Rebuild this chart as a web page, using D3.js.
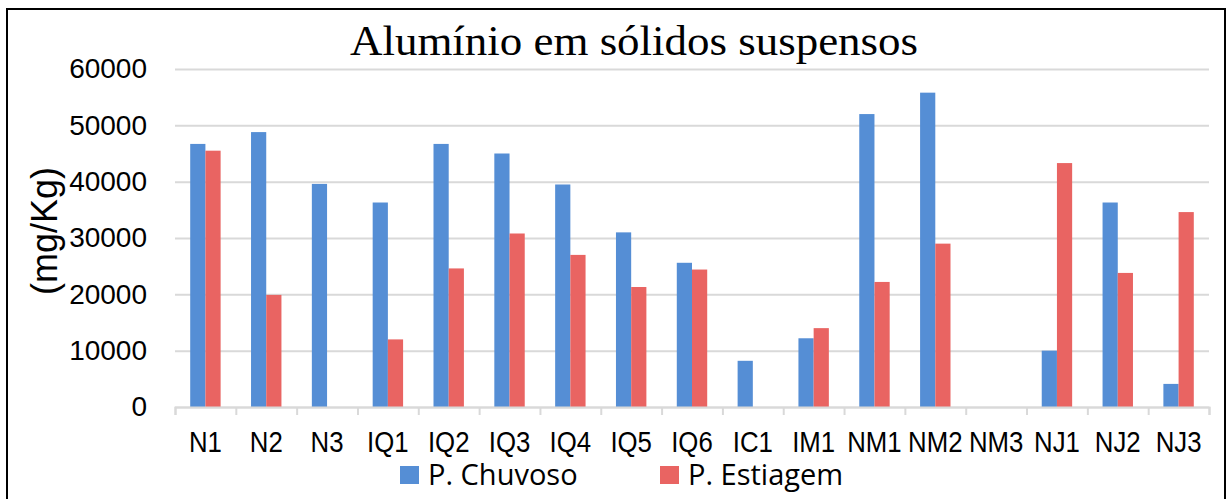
<!DOCTYPE html>
<html>
<head>
<meta charset="utf-8">
<script src="https://cdn.jsdelivr.net/npm/d3@7"></script>
<style>
  body { margin: 0; background: #fff; }
  svg { display: block; }
</style>
</head>
<body>
<svg id="chart" width="1229" height="499"></svg>
<script>
// dados do gráfico
var categorias = ['N1', 'N2', 'N3', 'IQ1', 'IQ2', 'IQ3', 'IQ4', 'IQ5', 'IQ6', 'IC1', 'IM1', 'NM1', 'NM2', 'NM3', 'NJ1', 'NJ2', 'NJ3'];
var chuvoso = [46700, 48800, 39600, 36300, 46700, 45000, 39500, 31000, 25600, 8200, 12200, 52000, 55800, 0, 10000, 36300, 4100];
var estiagem = [45500, 19900, 0, 12000, 24600, 30800, 27000, 21300, 24400, 0, 14000, 22200, 29000, 0, 43300, 23800, 34600];
var series = ['P. Chuvoso', 'P. Estiagem'];
var yTicks = [0, 10000, 20000, 30000, 40000, 50000, 60000];

var svg = d3.select('#chart'),
    cores = ['#558ED5', '#E96462'],
    pLeft = 175, pRight = 1209, pTop = 69, pBottom = 407;

// moldura
svg.append('rect')
    .attr('x', 7).attr('y', 9).attr('width', 1218).attr('height', 510)
    .attr('fill', 'none').attr('stroke', '#000').attr('stroke-width', 2);

var x = d3.scaleBand().domain(categorias).range([pLeft, pRight]).paddingInner(0.5).paddingOuter(0.25);
var xs = d3.scaleBand().domain(series).range([0, x.bandwidth()]);
var y = d3.scaleLinear().domain([0, 60000]).range([pBottom, pTop]);

// linhas de grade
svg.append('g')
    .attr('transform', 'translate(' + pLeft + ',0)')
    .call(d3.axisLeft(y).tickValues(yTicks).tickSize(-(pRight - pLeft)).tickFormat(''))
    .call(function (g) {
        g.select('.domain').remove();
        g.selectAll('line').attr('stroke', '#D9D9D9').attr('stroke-width', 2);
    });

// rótulos do eixo y
svg.append('g')
    .attr('transform', 'translate(' + pLeft + ',0)')
    .call(d3.axisLeft(y).tickValues(yTicks).tickSize(0).tickPadding(28).tickFormat(d3.format('d')))
    .call(function (g) {
        g.select('.domain').remove();
        g.selectAll('text').attr('font-family', 'Liberation Sans, Arial, sans-serif')
            .attr('font-size', 28).attr('fill', '#000');
    });

// barras
var grupos = svg.append('g').selectAll('g')
    .data(categorias)
    .enter()
    .append('g')
    .attr('transform', function (c) { return 'translate(' + x(c) + ',0)'; });

grupos.selectAll('rect')
    .data(function (c, i) { return [{ s: series[0], v: chuvoso[i] }, { s: series[1], v: estiagem[i] }]; })
    .enter()
    .append('rect')
    .attr('x', function (d) { return xs(d.s); })
    .attr('y', function (d) { return y(d.v); })
    .attr('width', xs.bandwidth())
    .attr('height', function (d) { return pBottom - y(d.v); })
    .attr('fill', function (d, i) { return cores[i]; });

// eixo x: linha e marcas entre categorias
var xb = d3.scaleLinear().domain([0, categorias.length]).range([pLeft, pRight]);
svg.append('g')
    .attr('transform', 'translate(0,' + pBottom + ')')
    .call(d3.axisBottom(xb).ticks(categorias.length).tickSize(8).tickSizeOuter(8).tickFormat(''))
    .call(function (g) {
        g.selectAll('line, path').attr('stroke', '#D9D9D9').attr('stroke-width', 2);
    });

svg.append('g')
    .attr('transform', 'translate(0,' + pBottom + ')')
    .call(d3.axisBottom(x).tickSize(0).tickPadding(0))
    .call(function (g) {
        g.select('.domain').remove();
        g.selectAll('text')
            .attr('y', 45).attr('dy', 0)
            .attr('font-family', 'Liberation Sans, Arial, sans-serif')
            .attr('font-size', 30).attr('fill', '#000')
            .attr('transform', 'scale(0.86,1)');
    });

// título do eixo y
svg.append('text')
    .attr('transform', 'translate(57,231) rotate(-90)')
    .attr('text-anchor', 'middle')
    .attr('font-family', 'Liberation Sans, Arial, sans-serif')
    .attr('font-size', 36)
    .text('(mg/Kg)');

// título
svg.append('text')
    .attr('x', 634).attr('y', 55)
    .attr('text-anchor', 'middle')
    .attr('font-family', 'Liberation Serif, serif')
    .attr('font-size', 42)
    .attr('textLength', 568).attr('lengthAdjust', 'spacingAndGlyphs')
    .text('Alumínio em sólidos suspensos');

// legenda
var legX = [400, 660];
var leg = svg.append('g').selectAll('g')
    .data(series)
    .enter()
    .append('g')
    .attr('transform', function (d, i) { return 'translate(' + legX[i] + ',466)'; });
leg.append('rect').attr('width', 19).attr('height', 18)
    .attr('fill', function (d, i) { return cores[i]; });
leg.append('text').attr('x', 28).attr('y', 19)
    .attr('font-family', 'Open Sans, sans-serif').attr('font-size', 29)
    .text(function (d) { return d; });
</script>
</body>
</html>
